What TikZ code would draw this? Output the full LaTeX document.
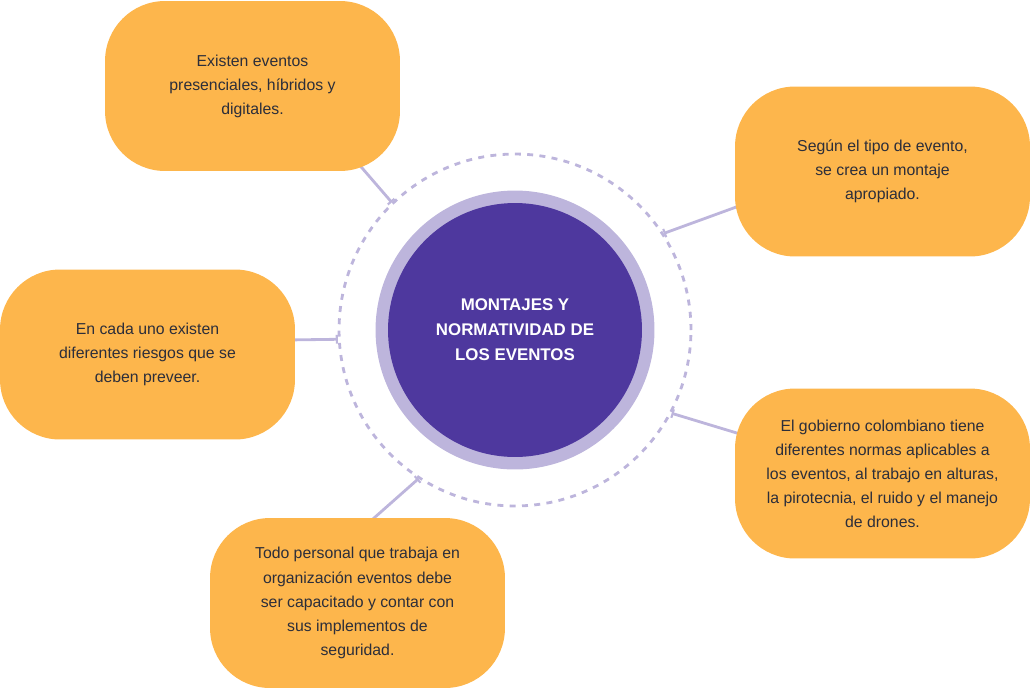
\documentclass[tikz,border=0pt]{standalone}
\usepackage{fontspec}
\setmainfont{Liberation Sans}
\usetikzlibrary{arrows.meta}

\definecolor{naranja}{HTML}{FDB64C}
\definecolor{morado}{HTML}{4E389E}
\definecolor{lila}{HTML}{BDB5DC}
\definecolor{tinta}{HTML}{2C2E3A}

\tikzset{
  caja/.style={fill=naranja, rounded corners=1.2cm, minimum width=5.9cm,
    minimum height=3.4cm, align=center, text=tinta, inner sep=0pt,
    font=\fontsize{9}{13.7}\selectfont},
  enlace/.style={draw=lila, line width=1.6pt, {Bar[width=5pt,line width=1.2pt]}-},
}

\begin{document}
\begin{tikzpicture}[x=0.02cm,y=-0.02cm]
  \useasboundingbox (0,0) rectangle (1030,687);

  \node[circle, draw=lila, line width=1.6pt, dash pattern=on 3.4pt off 3.6pt,
    minimum size=7.04cm] (guia) at (515,330) {};
  \node[circle, fill=lila, minimum size=5.58cm] (anillo) at (515,330) {};
  \node[circle, fill=morado, minimum size=5.08cm, align=center, text=white,
    font=\bfseries\fontsize{9.6}{14.2}\selectfont] (centro) at (515,330)
    {MONTAJES Y\\NORMATIVIDAD DE\\LOS EVENTOS};

  \coordinate (p1) at (350,154);
  \coordinate (p2) at (750,202);
  \coordinate (p3) at (285,340);
  \coordinate (p4) at (750,437);
  \coordinate (p5) at (365,526);
  \draw[enlace] (guia.134) -- (p1);
  \draw[enlace] (guia.33) -- (p2);
  \draw[enlace] (guia.-177) -- (p3);
  \draw[enlace] (guia.-28) -- (p4);
  \draw[enlace] (guia.-123) -- (p5);

  \node[caja] (c1) at (252.5,86) {Existen eventos\\presenciales, híbridos y\\digitales.};
  \node[caja] (c2) at (882.5,171.5) {Según el tipo de evento,\\se crea un montaje\\apropiado.};
  \node[caja] (c3) at (147.5,354.5) {En cada uno existen\\diferentes riesgos que se\\deben preveer.};
  \node[caja] (c4) at (882.5,473.5) {El gobierno colombiano tiene\\diferentes normas aplicables a\\los eventos, al trabajo en alturas,\\la pirotecnia, el ruido y el manejo\\de drones.};
  \node[caja] (c5) at (357.5,603) {Todo personal que trabaja en\\organización eventos debe\\ser capacitado y contar con\\sus implementos de\\seguridad.};
\end{tikzpicture}
\end{document}
